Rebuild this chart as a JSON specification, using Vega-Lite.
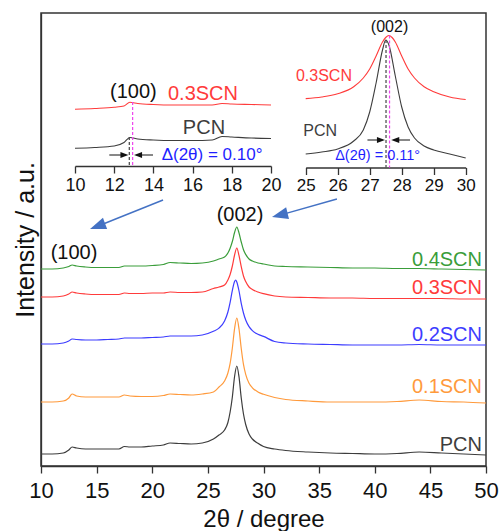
{
"$schema":"https://vega.github.io/schema/vega-lite/v6.json",
"width":445,"height":453,"autosize":"none",
"padding":{"left":41,"top":13,"right":16,"bottom":65},
"background":"white",
"config":{"font":"Liberation Sans","view":{"stroke":"#333","strokeWidth":1.5},
"range":{"category":["#ff9a3c","#3d3dff","#ff3b3b","#3a9d3a","#3d3d3d"]},
"axis":{"grid":false,"domainColor":"#333","tickColor":"#333","labelColor":"#111","titleColor":"#111","domainWidth":1.3,"tickWidth":1.3,"titleFontWeight":"normal","labelOverlap":false,"labelFlush":false}},
"datasets":{
"main":[
{"s":"PCN","x":10,"h":12},{"s":"PCN","x":11,"h":12},{"s":"PCN","x":12,"h":13},{"s":"PCN","x":12.5,"h":16},{"s":"PCN","x":12.8,"h":19},{"s":"PCN","x":13.2,"h":18},{"s":"PCN","x":14,"h":17},{"s":"PCN","x":15,"h":17},{"s":"PCN","x":16,"h":17},{"s":"PCN","x":17,"h":17},{"s":"PCN","x":17.5,"h":19.5},{"s":"PCN","x":18,"h":19},{"s":"PCN","x":19,"h":19},{"s":"PCN","x":20,"h":20},{"s":"PCN","x":21,"h":21},{"s":"PCN","x":21.6,"h":23},{"s":"PCN","x":22.5,"h":22.5},{"s":"PCN","x":23.5,"h":22},{"s":"PCN","x":24.5,"h":23},{"s":"PCN","x":25.5,"h":27},{"s":"PCN","x":26,"h":31},{"s":"PCN","x":26.5,"h":36},{"s":"PCN","x":26.8,"h":43.5},{"s":"PCN","x":27,"h":54},{"s":"PCN","x":27.2,"h":69},{"s":"PCN","x":27.4,"h":89.5},{"s":"PCN","x":27.6,"h":100},{"s":"PCN","x":27.8,"h":89},{"s":"PCN","x":28,"h":68},{"s":"PCN","x":28.2,"h":52},{"s":"PCN","x":28.4,"h":41.5},{"s":"PCN","x":28.7,"h":32},{"s":"PCN","x":29,"h":27},{"s":"PCN","x":29.5,"h":22.7},{"s":"PCN","x":30,"h":19.5},{"s":"PCN","x":31,"h":17},{"s":"PCN","x":32,"h":15.5},{"s":"PCN","x":34,"h":14},{"s":"PCN","x":36,"h":13},{"s":"PCN","x":38,"h":12.5},{"s":"PCN","x":40,"h":12},{"s":"PCN","x":42,"h":12.5},{"s":"PCN","x":44,"h":14},{"s":"PCN","x":46,"h":13},{"s":"PCN","x":48,"h":12},{"s":"PCN","x":50,"h":11},
{"s":"0.1SCN","x":10,"h":64},{"s":"0.1SCN","x":11,"h":64},{"s":"0.1SCN","x":12,"h":65},{"s":"0.1SCN","x":12.5,"h":68},{"s":"0.1SCN","x":12.8,"h":72},{"s":"0.1SCN","x":13.2,"h":70},{"s":"0.1SCN","x":14,"h":69},{"s":"0.1SCN","x":15,"h":69},{"s":"0.1SCN","x":16,"h":69},{"s":"0.1SCN","x":17,"h":69},{"s":"0.1SCN","x":17.5,"h":71},{"s":"0.1SCN","x":18,"h":70},{"s":"0.1SCN","x":19,"h":69.5},{"s":"0.1SCN","x":20,"h":69.5},{"s":"0.1SCN","x":21,"h":70.5},{"s":"0.1SCN","x":21.6,"h":72},{"s":"0.1SCN","x":22.5,"h":71.5},{"s":"0.1SCN","x":23.5,"h":71},{"s":"0.1SCN","x":24.5,"h":72},{"s":"0.1SCN","x":25.5,"h":74},{"s":"0.1SCN","x":26,"h":79},{"s":"0.1SCN","x":26.5,"h":85},{"s":"0.1SCN","x":26.8,"h":93},{"s":"0.1SCN","x":27,"h":102.6},{"s":"0.1SCN","x":27.2,"h":118},{"s":"0.1SCN","x":27.4,"h":137.4},{"s":"0.1SCN","x":27.6,"h":148},{"s":"0.1SCN","x":27.8,"h":137},{"s":"0.1SCN","x":28,"h":117.5},{"s":"0.1SCN","x":28.2,"h":101.6},{"s":"0.1SCN","x":28.4,"h":91.6},{"s":"0.1SCN","x":28.7,"h":82.7},{"s":"0.1SCN","x":29,"h":78.2},{"s":"0.1SCN","x":29.5,"h":74},{"s":"0.1SCN","x":30,"h":71.7},{"s":"0.1SCN","x":31,"h":68.5},{"s":"0.1SCN","x":32,"h":66.5},{"s":"0.1SCN","x":34,"h":65},{"s":"0.1SCN","x":36,"h":64},{"s":"0.1SCN","x":38,"h":64},{"s":"0.1SCN","x":40,"h":64},{"s":"0.1SCN","x":42,"h":64.5},{"s":"0.1SCN","x":44,"h":66},{"s":"0.1SCN","x":46,"h":64.5},{"s":"0.1SCN","x":48,"h":64},{"s":"0.1SCN","x":50,"h":63},
{"s":"0.2SCN","x":10,"h":122},{"s":"0.2SCN","x":11,"h":122},{"s":"0.2SCN","x":12,"h":123},{"s":"0.2SCN","x":12.5,"h":125},{"s":"0.2SCN","x":12.8,"h":127},{"s":"0.2SCN","x":13.2,"h":126.5},{"s":"0.2SCN","x":14,"h":126},{"s":"0.2SCN","x":15,"h":126},{"s":"0.2SCN","x":16,"h":126.5},{"s":"0.2SCN","x":17,"h":127},{"s":"0.2SCN","x":17.5,"h":128},{"s":"0.2SCN","x":18,"h":128},{"s":"0.2SCN","x":19,"h":128},{"s":"0.2SCN","x":20,"h":128.5},{"s":"0.2SCN","x":21,"h":129},{"s":"0.2SCN","x":21.6,"h":130},{"s":"0.2SCN","x":22.5,"h":130},{"s":"0.2SCN","x":23.5,"h":130},{"s":"0.2SCN","x":24.5,"h":131},{"s":"0.2SCN","x":25.5,"h":134.7},{"s":"0.2SCN","x":26,"h":137.9},{"s":"0.2SCN","x":26.5,"h":145},{"s":"0.2SCN","x":26.8,"h":154},{"s":"0.2SCN","x":27,"h":163.6},{"s":"0.2SCN","x":27.2,"h":175.6},{"s":"0.2SCN","x":27.4,"h":184.5},{"s":"0.2SCN","x":27.5,"h":186},{"s":"0.2SCN","x":27.6,"h":184},{"s":"0.2SCN","x":27.8,"h":175},{"s":"0.2SCN","x":28,"h":162.6},{"s":"0.2SCN","x":28.2,"h":153},{"s":"0.2SCN","x":28.4,"h":146},{"s":"0.2SCN","x":28.7,"h":139.4},{"s":"0.2SCN","x":29,"h":135.4},{"s":"0.2SCN","x":29.5,"h":131.7},{"s":"0.2SCN","x":30,"h":129.6},{"s":"0.2SCN","x":31,"h":124.5},{"s":"0.2SCN","x":32,"h":123},{"s":"0.2SCN","x":34,"h":122},{"s":"0.2SCN","x":36,"h":121.5},{"s":"0.2SCN","x":38,"h":121},{"s":"0.2SCN","x":40,"h":121},{"s":"0.2SCN","x":42,"h":121},{"s":"0.2SCN","x":44,"h":121.5},{"s":"0.2SCN","x":46,"h":121},{"s":"0.2SCN","x":48,"h":121},{"s":"0.2SCN","x":50,"h":121},
{"s":"0.3SCN","x":10,"h":169},{"s":"0.3SCN","x":11,"h":169},{"s":"0.3SCN","x":12,"h":170},{"s":"0.3SCN","x":12.5,"h":172},{"s":"0.3SCN","x":12.8,"h":174},{"s":"0.3SCN","x":13.2,"h":173},{"s":"0.3SCN","x":14,"h":172},{"s":"0.3SCN","x":15,"h":171.5},{"s":"0.3SCN","x":16,"h":171.5},{"s":"0.3SCN","x":17,"h":171.5},{"s":"0.3SCN","x":17.5,"h":173},{"s":"0.3SCN","x":18,"h":172.5},{"s":"0.3SCN","x":19,"h":172.5},{"s":"0.3SCN","x":20,"h":173},{"s":"0.3SCN","x":21,"h":173},{"s":"0.3SCN","x":21.6,"h":174},{"s":"0.3SCN","x":22.5,"h":173.5},{"s":"0.3SCN","x":23.5,"h":173.5},{"s":"0.3SCN","x":24.5,"h":174},{"s":"0.3SCN","x":25.5,"h":177.5},{"s":"0.3SCN","x":26,"h":179},{"s":"0.3SCN","x":26.5,"h":181},{"s":"0.3SCN","x":26.8,"h":186},{"s":"0.3SCN","x":27,"h":191.5},{"s":"0.3SCN","x":27.2,"h":200},{"s":"0.3SCN","x":27.4,"h":211},{"s":"0.3SCN","x":27.6,"h":218},{"s":"0.3SCN","x":27.8,"h":210.4},{"s":"0.3SCN","x":28,"h":199.3},{"s":"0.3SCN","x":28.2,"h":190},{"s":"0.3SCN","x":28.4,"h":184.4},{"s":"0.3SCN","x":28.7,"h":179},{"s":"0.3SCN","x":29,"h":176.5},{"s":"0.3SCN","x":29.5,"h":174},{"s":"0.3SCN","x":30,"h":172.3},{"s":"0.3SCN","x":31,"h":170},{"s":"0.3SCN","x":32,"h":169},{"s":"0.3SCN","x":34,"h":168.5},{"s":"0.3SCN","x":36,"h":168},{"s":"0.3SCN","x":38,"h":168},{"s":"0.3SCN","x":40,"h":167.5},{"s":"0.3SCN","x":42,"h":167.5},{"s":"0.3SCN","x":44,"h":167.5},{"s":"0.3SCN","x":46,"h":167.5},{"s":"0.3SCN","x":48,"h":167},{"s":"0.3SCN","x":50,"h":167},
{"s":"0.4SCN","x":10,"h":197},{"s":"0.4SCN","x":11,"h":197},{"s":"0.4SCN","x":12,"h":198},{"s":"0.4SCN","x":12.5,"h":199.5},{"s":"0.4SCN","x":12.8,"h":201},{"s":"0.4SCN","x":13.2,"h":200},{"s":"0.4SCN","x":14,"h":199},{"s":"0.4SCN","x":15,"h":198.5},{"s":"0.4SCN","x":16,"h":198.5},{"s":"0.4SCN","x":17,"h":198.5},{"s":"0.4SCN","x":17.5,"h":200},{"s":"0.4SCN","x":18,"h":200},{"s":"0.4SCN","x":19,"h":200},{"s":"0.4SCN","x":20,"h":200.5},{"s":"0.4SCN","x":21,"h":201.5},{"s":"0.4SCN","x":21.6,"h":203.5},{"s":"0.4SCN","x":22.5,"h":203},{"s":"0.4SCN","x":23.5,"h":202.5},{"s":"0.4SCN","x":24.5,"h":203},{"s":"0.4SCN","x":25.5,"h":205},{"s":"0.4SCN","x":26,"h":207},{"s":"0.4SCN","x":26.5,"h":209},{"s":"0.4SCN","x":26.8,"h":213},{"s":"0.4SCN","x":27,"h":217.8},{"s":"0.4SCN","x":27.2,"h":224.5},{"s":"0.4SCN","x":27.4,"h":233.5},{"s":"0.4SCN","x":27.6,"h":239},{"s":"0.4SCN","x":27.8,"h":233},{"s":"0.4SCN","x":28,"h":224},{"s":"0.4SCN","x":28.2,"h":216.3},{"s":"0.4SCN","x":28.4,"h":211.6},{"s":"0.4SCN","x":28.7,"h":207},{"s":"0.4SCN","x":29,"h":205},{"s":"0.4SCN","x":29.5,"h":203},{"s":"0.4SCN","x":30,"h":202},{"s":"0.4SCN","x":31,"h":200},{"s":"0.4SCN","x":32,"h":199.5},{"s":"0.4SCN","x":34,"h":199},{"s":"0.4SCN","x":36,"h":198.5},{"s":"0.4SCN","x":38,"h":198},{"s":"0.4SCN","x":40,"h":198},{"s":"0.4SCN","x":42,"h":197.5},{"s":"0.4SCN","x":44,"h":197.5},{"s":"0.4SCN","x":46,"h":197},{"s":"0.4SCN","x":48,"h":196.5},{"s":"0.4SCN","x":50,"h":196}
],
"insetA":[
{"s":"0.3SCN","x":10,"h":356.7},{"s":"0.3SCN","x":11,"h":357.5},{"s":"0.3SCN","x":12,"h":358.7},{"s":"0.3SCN","x":12.5,"h":360},{"s":"0.3SCN","x":12.8,"h":363.7},{"s":"0.3SCN","x":13.2,"h":362.5},{"s":"0.3SCN","x":14,"h":361.5},{"s":"0.3SCN","x":15,"h":361},{"s":"0.3SCN","x":16,"h":361},{"s":"0.3SCN","x":17,"h":361},{"s":"0.3SCN","x":17.5,"h":362.5},{"s":"0.3SCN","x":18,"h":362},{"s":"0.3SCN","x":19,"h":361.5},{"s":"0.3SCN","x":20,"h":361},
{"s":"PCN","x":10,"h":317.7},{"s":"PCN","x":11,"h":318.5},{"s":"PCN","x":12,"h":320},{"s":"PCN","x":12.5,"h":323.5},{"s":"PCN","x":12.8,"h":328.5},{"s":"PCN","x":13.2,"h":327},{"s":"PCN","x":14,"h":326},{"s":"PCN","x":15,"h":325.5},{"s":"PCN","x":16,"h":325.5},{"s":"PCN","x":17,"h":326},{"s":"PCN","x":17.5,"h":329.5},{"s":"PCN","x":18,"h":329},{"s":"PCN","x":19,"h":328},{"s":"PCN","x":20,"h":327.5}
],
"insetB":[
{"s":"0.3SCN","x":25,"h":367.4},{"s":"0.3SCN","x":25.5,"h":369},{"s":"0.3SCN","x":26,"h":372.2},{"s":"0.3SCN","x":26.5,"h":379.2},{"s":"0.3SCN","x":26.8,"h":388},{"s":"0.3SCN","x":27,"h":397},{"s":"0.3SCN","x":27.2,"h":410},{"s":"0.3SCN","x":27.4,"h":424},{"s":"0.3SCN","x":27.5,"h":428.5},{"s":"0.3SCN","x":27.6,"h":430.5},{"s":"0.3SCN","x":27.7,"h":428.5},{"s":"0.3SCN","x":27.8,"h":424},{"s":"0.3SCN","x":28,"h":410},{"s":"0.3SCN","x":28.2,"h":397},{"s":"0.3SCN","x":28.4,"h":388},{"s":"0.3SCN","x":28.7,"h":379.2},{"s":"0.3SCN","x":29,"h":374.3},{"s":"0.3SCN","x":29.5,"h":369},{"s":"0.3SCN","x":30,"h":366.5},
{"s":"PCN","x":25,"h":312},{"s":"PCN","x":25.5,"h":314},{"s":"PCN","x":26,"h":317},{"s":"PCN","x":26.5,"h":325},{"s":"PCN","x":26.8,"h":336},{"s":"PCN","x":27,"h":354},{"s":"PCN","x":27.2,"h":383},{"s":"PCN","x":27.4,"h":416},{"s":"PCN","x":27.5,"h":426},{"s":"PCN","x":27.6,"h":421},{"s":"PCN","x":27.8,"h":390},{"s":"PCN","x":28,"h":359},{"s":"PCN","x":28.2,"h":339},{"s":"PCN","x":28.4,"h":328},{"s":"PCN","x":28.7,"h":320},{"s":"PCN","x":29,"h":316},{"s":"PCN","x":29.5,"h":312},{"s":"PCN","x":30,"h":308}
]
},
"layer":[
{
"encoding":{
"x":{"field":"x","type":"quantitative","scale":{"domain":[10,50],"nice":false,"zero":false},
"axis":{"orient":"bottom","values":[10,15,20,25,30,35,40,45,50],"tickSize":7,"labelFontSize":22,"labelPadding":7,"title":"2θ / degree","titleFontSize":24,"titlePadding":6}},
"y":{"field":"h","type":"quantitative","scale":{"domain":[0,453],"nice":false,"zero":false},
"axis":{"title":"Intensity / a.u.","labels":false,"ticks":false,"titleFontSize":25,"titlePadding":3}}
},
"layer":[
{"data":{"name":"main"},"mark":{"type":"line","strokeWidth":1.2,"interpolate":"monotone"},
"encoding":{"color":{"field":"s","type":"nominal","legend":null}}},
{"data":{"values":[{"s":"0.4SCN","x":49.64,"h":206},{"s":"0.3SCN","x":49.64,"h":178},{"s":"0.2SCN","x":49.64,"h":131},{"s":"0.1SCN","x":49.64,"h":79},{"s":"PCN","x":49.64,"h":21}]},
"mark":{"type":"text","align":"right","baseline":"middle","fontSize":20},
"encoding":{"text":{"field":"s"},"color":{"field":"s","type":"nominal","legend":null}}},
{"data":{"values":[{"t":"(100)","x":12.97,"h":213},{"t":"(002)","x":27.89,"h":251}]},
"mark":{"type":"text","align":"center","baseline":"middle","fontSize":20,"color":"#111"},
"encoding":{"text":{"field":"t"}}},
{"data":{"values":[{"x":20.97,"h":266,"x2":15.25,"h2":240.5},{"x":36.6,"h":267,"x2":31.64,"h2":251.4}]},
"mark":{"type":"rule","color":"#4472C4","strokeWidth":1.5},
"encoding":{"x2":{"field":"x2"},"y2":{"field":"h2"}}},
{"data":{"values":[{"x":15.25,"h":240.5}]},
"mark":{"type":"point","shape":"M0,-1L0.6,0.6L-0.6,0.6Z","filled":true,"size":400,"angle":249.7,"color":"#4472C4","opacity":1,"strokeWidth":0}},
{"data":{"values":[{"x":31.64,"h":251.4}]},
"mark":{"type":"point","shape":"M0,-1L0.6,0.6L-0.6,0.6Z","filled":true,"size":400,"angle":256.2,"color":"#4472C4","opacity":1,"strokeWidth":0}}
]
},
{
"encoding":{
"x":{"field":"x","type":"quantitative","scale":{"domain":[10,20],"range":[34,230],"nice":false,"zero":false},
"axis":{"orient":"bottom","offset":-300,"values":[10,12,14,16,18,20],"tickSize":7,"labelFontSize":18,"labelPadding":3,"title":null}},
"y":{"field":"h","type":"quantitative","scale":{"domain":[0,453],"nice":false,"zero":false},"axis":null}
},
"layer":[
{"data":{"name":"insetA"},"mark":{"type":"line","strokeWidth":1.1,"interpolate":"monotone"},
"encoding":{"color":{"field":"s","type":"nominal","legend":null}}},
{"data":{"values":[{"x":12.77,"h":329,"h2":300}]},"mark":{"type":"rule","color":"#444","strokeWidth":1.2,"strokeDash":[3,2]},"encoding":{"y2":{"field":"h2"}}},
{"data":{"values":[{"x":12.94,"h":364,"h2":300}]},"mark":{"type":"rule","color":"#ee44ee","strokeWidth":1.2,"strokeDash":[3,2]},"encoding":{"y2":{"field":"h2"}}},
{"data":{"values":[{"x":11.75,"x2":12.6,"h":311},{"x":13.98,"x2":13.15,"h":311}]},"mark":{"type":"rule","color":"#111","strokeWidth":1},"encoding":{"x2":{"field":"x2"}}},
{"data":{"values":[{"x":12.47,"h":311}]},"mark":{"type":"point","shape":"M0,-1L0.6,0.6L-0.6,0.6Z","filled":true,"size":100,"angle":90,"color":"#111","opacity":1,"strokeWidth":0}},
{"data":{"values":[{"x":13.27,"h":311}]},"mark":{"type":"point","shape":"M0,-1L0.6,0.6L-0.6,0.6Z","filled":true,"size":100,"angle":270,"color":"#111","opacity":1,"strokeWidth":0}},
{"data":{"values":[{"s":"0.3SCN","x":16.53,"h":372},{"s":"PCN","x":16.58,"h":338}]},
"mark":{"type":"text","align":"center","baseline":"middle","fontSize":20},
"encoding":{"text":{"field":"s"},"color":{"field":"s","type":"nominal","legend":null}}},
{"data":{"values":[{"t":"(100)","x":12.98,"h":374}]},"mark":{"type":"text","align":"center","baseline":"middle","fontSize":20,"color":"#111"},"encoding":{"text":{"field":"t"}}},
{"data":{"values":[{"t":"Δ(2θ) = 0.10°","x":14.42,"h":311}]},"mark":{"type":"text","align":"left","baseline":"middle","fontSize":17,"color":"#1f1fff"},"encoding":{"text":{"field":"t"}}}
]
},
{
"encoding":{
"x":{"field":"x","type":"quantitative","scale":{"domain":[25,30],"range":[264.7,424.7],"nice":false,"zero":false},
"axis":{"orient":"bottom","offset":-298.5,"values":[25,26,27,28,29,30],"tickSize":7,"labelFontSize":17,"labelPadding":3,"title":null}},
"y":{"field":"h","type":"quantitative","scale":{"domain":[0,453],"nice":false,"zero":false},"axis":null}
},
"layer":[
{"data":{"name":"insetB"},"mark":{"type":"line","strokeWidth":1.1,"interpolate":"monotone"},
"encoding":{"color":{"field":"s","type":"nominal","legend":null}}},
{"data":{"values":[{"x":27.51,"h":426,"h2":298.5}]},"mark":{"type":"rule","color":"#444","strokeWidth":1.2,"strokeDash":[3,2]},"encoding":{"y2":{"field":"h2"}}},
{"data":{"values":[{"x":27.62,"h":430.5,"h2":298.5}]},"mark":{"type":"rule","color":"#ee44ee","strokeWidth":1.2,"strokeDash":[3,2]},"encoding":{"y2":{"field":"h2"}}},
{"data":{"values":[{"x":26.93,"x2":27.4,"h":326},{"x":28.26,"x2":27.75,"h":326}]},"mark":{"type":"rule","color":"#111","strokeWidth":1},"encoding":{"x2":{"field":"x2"}}},
{"data":{"values":[{"x":27.32,"h":326}]},"mark":{"type":"point","shape":"M0,-1L0.6,0.6L-0.6,0.6Z","filled":true,"size":100,"angle":90,"color":"#111","opacity":1,"strokeWidth":0}},
{"data":{"values":[{"x":27.83,"h":326}]},"mark":{"type":"point","shape":"M0,-1L0.6,0.6L-0.6,0.6Z","filled":true,"size":100,"angle":270,"color":"#111","opacity":1,"strokeWidth":0}},
{"data":{"values":[{"s":"0.3SCN","x":25.57,"h":390},{"s":"PCN","x":25.45,"h":335}]},
"mark":{"type":"text","align":"center","baseline":"middle","fontSize":16},
"encoding":{"text":{"field":"s"},"color":{"field":"s","type":"nominal","legend":null}}},
{"data":{"values":[{"t":"(002)","x":27.62,"h":439}]},"mark":{"type":"text","align":"center","baseline":"middle","fontSize":16,"color":"#111"},"encoding":{"text":{"field":"t"}}},
{"data":{"values":[{"t":"Δ(2θ) = 0.11°","x":25.92,"h":310}]},"mark":{"type":"text","align":"left","baseline":"middle","fontSize":14.5,"color":"#1f1fff"},"encoding":{"text":{"field":"t"}}}
]
}
],
"resolve":{"scale":{"x":"independent","y":"independent"},"axis":{"x":"independent","y":"independent"}}
}
